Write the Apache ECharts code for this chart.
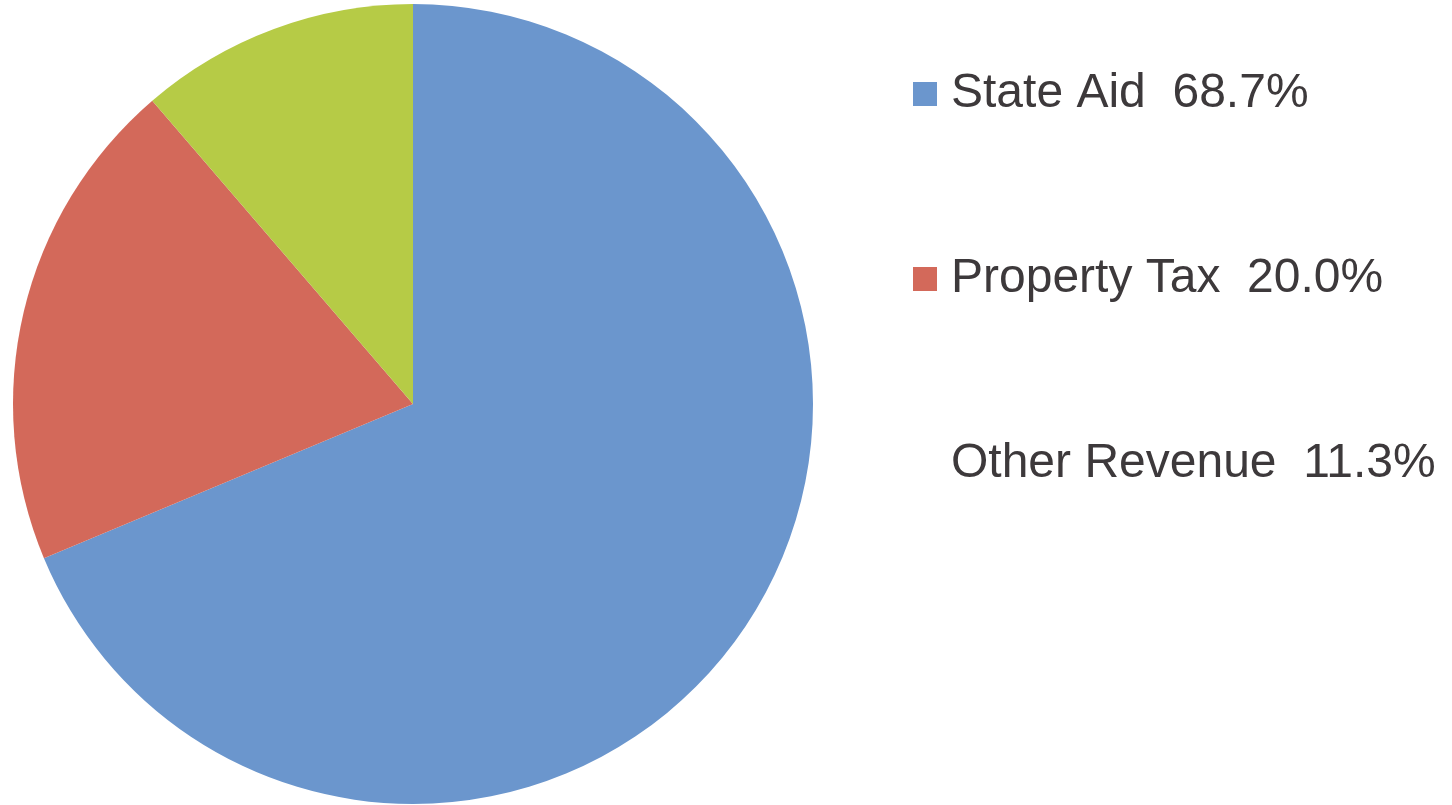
<!DOCTYPE html>
<html>
<head>
<meta charset="utf-8">
<script src="https://cdn.jsdelivr.net/npm/echarts@6/dist/echarts.min.js"></script>
<style>
html,body{margin:0;padding:0;background:#fff;}
#c{width:1452px;height:805px;}
</style>
</head>
<body>
<div id="c"></div>
<script>
const categories = ['State Aid', 'Property Tax', 'Other Revenue'];
const values = [68.7, 20.0, 11.3];
const colors = ['#6b96cd', '#d3695a', '#b6cb46'];

const chart = echarts.init(document.getElementById('c'), null, {renderer: 'canvas'});
const data = categories.map((c, i) => ({name: c, value: values[i], itemStyle: {color: colors[i]}}));
chart.setOption({
  animation: false,
  backgroundColor: '#ffffff',
  legend: {
    orient: 'vertical',
    left: 913,
    top: 67,
    padding: 0,
    itemWidth: 24,
    itemHeight: 24,
    itemGap: 131,
    icon: 'rect',
    data: categories.map((c, i) => i === 2 ? {name: c, itemStyle: {opacity: 0}} : {name: c}),
    formatter: function (name) {
      const i = categories.indexOf(name);
      return name + '  ' + values[i].toFixed(1) + '%';
    },
    textStyle: {
      fontFamily: 'Liberation Sans, Arial, sans-serif',
      fontSize: 48,
      lineHeight: 54,
      color: '#3d393b',
      padding: [0, 0, 0, 9]
    },
    selectedMode: false
  },
  series: [{
    type: 'pie',
    center: [413, 404],
    radius: [0, 400],
    startAngle: 90,
    clockwise: true,
    label: {show: false},
    labelLine: {show: false},
    emphasis: {disabled: true},
    itemStyle: {borderWidth: 0},
    data: data
  }]
});
</script>
</body>
</html>
